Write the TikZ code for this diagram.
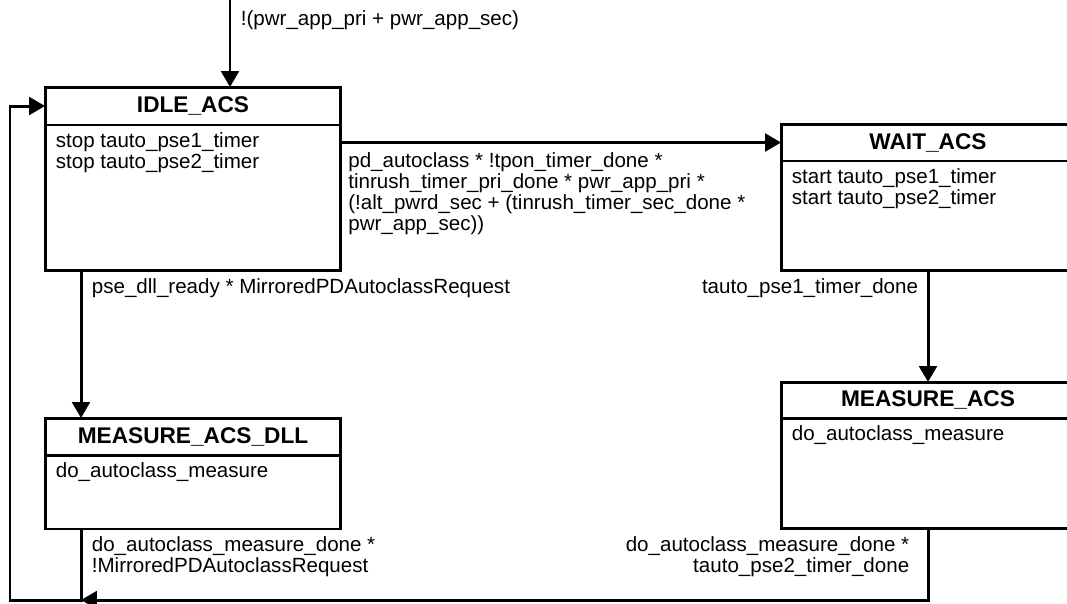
\documentclass[tikz,border=0pt]{standalone}
\usepackage{fontspec}
\setmainfont{Liberation Sans}
\usetikzlibrary{positioning,arrows.meta}

\tikzset{
  statehead/.style={draw, outer sep=0pt, inner sep=0pt, font=\fontsize{12.9}{14}\selectfont\bfseries},
  statebody/.style={draw, outer sep=0pt, inner sep=0pt},
  actions/.style={anchor=north west, align=left, inner xsep=5.3pt, inner ysep=3.4pt},
  cond/.style={align=left},
}

\begin{document}
\begin{tikzpicture}[
  x=0.02cm, y=-0.02cm,
  line width=1.7pt,
  >={Triangle[length=9pt,width=10pt]},
  every node/.style={font=\fontsize{11.7}{11.9}\selectfont}]
\useasboundingbox (0,0) rectangle (1067,603);

% states
\node[statehead, minimum width=5.92cm, minimum height=0.76cm] (idle) at (193,106) {IDLE\_ACS};
\node[statebody, below=0pt of idle, minimum width=5.92cm, minimum height=2.92cm] (idle b) {};
\node[actions] (idle a) at (idle b.north west) {stop tauto\_pse1\_timer\\stop tauto\_pse2\_timer};

\node[statehead, minimum width=5.88cm, minimum height=0.74cm] (wait) at (928,142.5) {WAIT\_ACS};
\node[statebody, below=0pt of wait, minimum width=5.88cm, minimum height=2.2cm] (wait b) {};
\node[actions] (wait a) at (wait b.north west) {start tauto\_pse1\_timer\\start tauto\_pse2\_timer};

\node[statehead, minimum width=5.88cm, minimum height=0.72cm] (meas) at (928,400) {MEASURE\_ACS};
\node[statebody, below=0pt of meas, minimum width=5.88cm, minimum height=2.22cm] (meas b) {};
\node[actions] (meas a) at (meas b.north west) {do\_autoclass\_measure};

\node[statehead, minimum width=5.92cm, minimum height=0.74cm] (dll) at (193,436.5) {MEASURE\_ACS\_DLL};
\node[statebody, below=0pt of dll, minimum width=5.92cm, minimum height=1.48cm] (dll b) {};
\node[actions] (dll a) at (dll b.north west) {do\_autoclass\_measure};

% transitions
\coordinate (start) at (230,0);
\coordinate (loop) at (10,600);
\coordinate (dll out) at ([xshift=0.72cm]dll b.south west);

\draw[->] (start) -- (start |- idle.north) node[pos=0.23, right, xshift=2pt] {!(pwr\_app\_pri + pwr\_app\_sec)};
\draw[->] (wait.west -| idle b.east) -- (wait.west) node[at start, below right, cond, yshift=-1.5pt] {pd\_autoclass * !tpon\_timer\_done *\\tinrush\_timer\_pri\_done * pwr\_app\_pri *\\(!alt\_pwrd\_sec + (tinrush\_timer\_sec\_done *\\pwr\_app\_sec))};
\draw[->] ([xshift=0.72cm]idle b.south west) -- ([xshift=0.72cm]dll.north west) node[at start, below right, xshift=2pt] {pse\_dll\_ready * MirroredPDAutoclassRequest};
\draw[->] (wait b.south) -- (meas.north) node[at start, below left, xshift=-1.5pt] {tauto\_pse1\_timer\_done};
\draw[->] (dll out) node[below right, cond, xshift=2pt] {do\_autoclass\_measure\_done *\\!MirroredPDAutoclassRequest} |- (loop) |- (idle.west);
\draw[->] (meas b.south) node[below left, align=right, xshift=-6.5pt] {do\_autoclass\_measure\_done *\\tauto\_pse2\_timer\_done} |- (dll out |- loop);
\end{tikzpicture}
\end{document}
